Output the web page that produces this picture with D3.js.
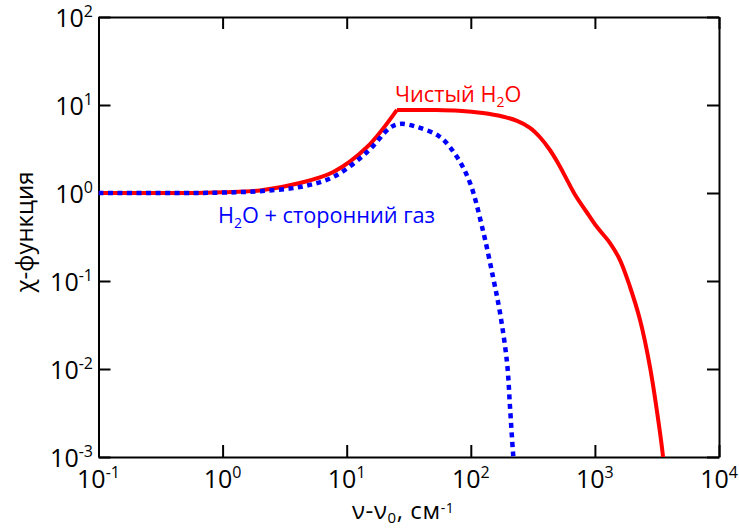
<!DOCTYPE html>
<html>
<head>
<meta charset="utf-8">
<script src="https://cdn.jsdelivr.net/npm/d3@7"></script>
<style>
  body { margin: 0; background: #fff; }
  svg { display: block; font-family: "Open Sans", "Noto Sans", sans-serif; }
</style>
</head>
<body>
<svg id="chart" width="739" height="531"></svg>
<script>
// ---- data ----
const xTicks = [0.1, 1, 10, 100, 1000, 10000];
const xTickExp = ["-1", "0", "1", "2", "3", "4"];
const yTicks = [0.001, 0.01, 0.1, 1, 10, 100];
const yTickExp = ["-3", "-2", "-1", "0", "1", "2"];

// Pure H2O (red) - rising branch up to the kink, then falling branch
const redRiseX = [0.1, 0.5, 1, 2, 4.2, 7.8, 14.6, 25.4];
const redRiseY = [1.0, 1.0, 1.02, 1.07, 1.30, 1.73, 3.33, 8.8];
const redFallX = [25.4, 49.5, 80, 125, 180, 236, 300, 361, 434, 504, 596, 700, 900, 1040, 1324, 1593, 1919, 2311, 2780, 3350, 3540, 3650];
const redFallY = [8.8, 8.77, 8.6, 8.1, 7.4, 6.6, 5.5, 4.3, 3.08, 2.19, 1.41, 0.93, 0.55, 0.41, 0.27, 0.173, 0.0855, 0.036, 0.0105, 0.00187, 0.001, 0.0006];

// H2O + foreign gas (blue)
const blueX = [0.1, 0.5, 1, 2, 4.2, 7.8, 14.6, 22.3, 26.9, 36.9, 56.5, 77.5, 98.6, 125, 151, 172, 196, 207, 219, 225];
const blueY = [1.0, 1.0, 1.01, 1.05, 1.17, 1.52, 2.92, 5.5, 6.1, 5.62, 4.33, 2.56, 1.30, 0.38, 0.111, 0.0433, 0.0117, 0.0037, 0.0011, 0.0007];

const redLabel = "Чистый H";
const blueLabel = "H";

// ---- layout ----
const L = 98.5, R = 719, T = 17, B = 457;
const svg = d3.select("#chart");

const x = d3.scaleLog().domain([0.1, 10000]).range([L, R]);
const y = d3.scaleLog().domain([0.001, 100]).range([B, T]);

svg.append("defs").append("clipPath").attr("id", "clip")
  .append("rect").attr("x", L).attr("y", T).attr("width", R - L).attr("height", B - T);

// axes with inward ticks
function styleAxis(g) {
  g.selectAll("path").attr("stroke", "#000").attr("stroke-width", 2);
  g.selectAll("line").attr("stroke", "#000").attr("stroke-width", 2);
  g.selectAll("text").remove();
}
svg.append("g").attr("transform", `translate(0,${B})`)
  .call(d3.axisBottom(x).tickValues(xTicks).tickSizeInner(-12).tickSizeOuter(0).tickFormat(""))
  .call(styleAxis);
svg.append("g").attr("transform", `translate(0,${T})`)
  .call(d3.axisTop(x).tickValues(xTicks).tickSizeInner(-12).tickSizeOuter(0).tickFormat(""))
  .call(styleAxis);
svg.append("g").attr("transform", `translate(${L},0)`)
  .call(d3.axisLeft(y).tickValues(yTicks).tickSizeInner(-12).tickSizeOuter(0).tickFormat(""))
  .call(styleAxis);
svg.append("g").attr("transform", `translate(${R},0)`)
  .call(d3.axisRight(y).tickValues(yTicks).tickSizeInner(-12).tickSizeOuter(0).tickFormat(""))
  .call(styleAxis);

// tick labels
function powLabel(sel, exp) {
  sel.append("tspan").text("10");
  sel.append("tspan").attr("font-size", 16).attr("dy", -10).text(exp);
}
xTicks.forEach((v, i) => {
  const t = svg.append("text").attr("x", x(v)).attr("y", 488)
    .attr("text-anchor", "middle").attr("font-size", 25).attr("fill", "#000");
  powLabel(t, xTickExp[i]);
});
yTicks.forEach((v, i) => {
  const t = svg.append("text").attr("x", 93).attr("y", y(v) + 10)
    .attr("text-anchor", "end").attr("font-size", 25).attr("fill", "#000");
  powLabel(t, yTickExp[i]);
});

// lines
const line = d3.line().x((d) => x(d[0])).y((d) => y(d[1])).curve(d3.curveCatmullRom.alpha(0.5));
const plot = svg.append("g").attr("clip-path", "url(#clip)");
plot.append("path").datum(d3.zip(redRiseX, redRiseY)).attr("d", line)
  .attr("fill", "none").attr("stroke", "#ff0000").attr("stroke-width", 4);
plot.append("path").datum(d3.zip(redFallX, redFallY)).attr("d", line)
  .attr("fill", "none").attr("stroke", "#ff0000").attr("stroke-width", 4);
plot.append("path").datum(d3.zip(blueX, blueY)).attr("d", line)
  .attr("fill", "none").attr("stroke", "#0000ff").attr("stroke-width", 4.5)
  .attr("stroke-dasharray", "5,4.5");

// series labels
const rl = svg.append("text").attr("x", 395).attr("y", 102).attr("font-size", 21.7).attr("fill", "#ff0000");
rl.append("tspan").text(redLabel);
rl.append("tspan").attr("font-size", 14).attr("dy", 5).text("2");
rl.append("tspan").attr("dy", -5).text("O");

const bl = svg.append("text").attr("x", 218).attr("y", 223).attr("font-size", 21.7).attr("fill", "#0000ff");
bl.append("tspan").text(blueLabel);
bl.append("tspan").attr("font-size", 14).attr("dy", 5).text("2");
bl.append("tspan").attr("dy", -5).text("O + сторонний газ");

// axis titles
svg.append("text").attr("transform", `translate(33,232) rotate(-90)`)
  .attr("text-anchor", "middle").attr("font-size", 24).attr("fill", "#000").text("χ-функция");

const xt = svg.append("text").attr("x", 352).attr("y", 519).attr("font-size", 24)
  .attr("letter-spacing", 0.6).attr("fill", "#000");
xt.append("tspan").text("ν-ν");
xt.append("tspan").attr("font-size", 15).attr("dy", 4).text("0");
xt.append("tspan").attr("dy", -4).text(", см");
xt.append("tspan").attr("font-size", 14).attr("dy", -6).text("-1");
</script>
</body>
</html>
